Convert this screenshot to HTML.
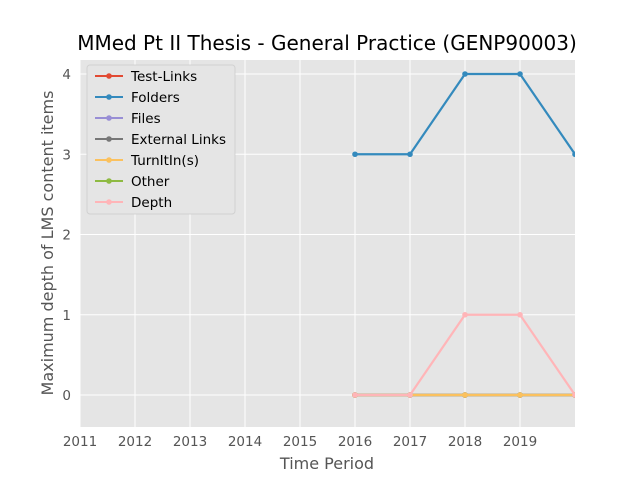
<!DOCTYPE html>
<html><head><meta charset="utf-8"><style>body{margin:0;background:#fff}svg{display:block;font-family:"DejaVu Sans","Liberation Sans",sans-serif}</style></head>
<body>
<svg id="c" width="640" height="480"><defs><clipPath id="pc"><rect x="80" y="60" width="495" height="367"/></clipPath></defs></svg>
<script>
const years=[2016,2017,2018,2019,2020];
const seriesNames=["Test-Links","Folders","Files","External Links","TurnItIn(s)","Other","Depth"];
const testLinks=[0,0,0,0,0];
const folders=[3,3,4,4,3];
const files=[0,0,0,0,0];
const externalLinks=[0,0,0,0,0];
const turnitin=[0,0,0,0,0];
const other=[0,0,0,0,0];
const depth=[0,0,1,1,0];
const xTicks=[2011,2012,2013,2014,2015,2016,2017,2018,2019];
const yTicks=[0,1,2,3,4];
const colors=["#E24A33","#348ABD","#988ED5","#777777","#FBC15E","#8EBA42","#FFB5B8"];
const all=[testLinks,folders,files,externalLinks,turnitin,other,depth];
const drawOrder=[0,1,2,3,5,4,6];
const NS="http://www.w3.org/2000/svg",svg=document.getElementById('c');
const L=80,R=575,T=60,B=427;
const x=v=>L+(v-2011)/(2020-2011)*(R-L);
const y=v=>395-v*80.25;
function mk(t,a,p){const e=document.createElementNS(NS,t);for(const k in a)e.setAttribute(k,a[k]);(p||svg).appendChild(e);return e;}
let bg=mk('rect',{x:L,y:T,width:R-L,height:B-T,fill:'#E5E5E5'});


xTicks.forEach(t=>{mk('line',{x1:x(t),x2:x(t),y1:T,y2:B,stroke:'#fff','stroke-width':1});
 let tx=mk('text',{x:x(t),y:446,'text-anchor':'middle','font-size':13.5,fill:'#555'});tx.textContent=t;
 
 });
yTicks.forEach(t=>{mk('line',{x1:L,x2:R,y1:y(t),y2:y(t),stroke:'#fff','stroke-width':1});
 let tx=mk('text',{x:71,y:y(t)+5,'text-anchor':'end','font-size':13.5,fill:'#555'});tx.textContent=t;
 
 });
const plot=mk('g',{'clip-path':'url(#pc)'});
drawOrder.forEach(i=>{const s=all[i];const g=mk('g',{},plot);
 
 
 mk('polyline',{points:s.map((v,j)=>x(years[j])+','+y(v)).join(' '),fill:'none',stroke:colors[i],'stroke-width':2.2},g);
 s.forEach((v,j)=>mk('circle',{cx:x(years[j]),cy:y(v),r:2.8,fill:colors[i]},g));});
const lg=mk('g',{});


mk('rect',{x:87,y:65,width:148,height:149,rx:3,fill:'#E5E5E5',stroke:'#ccc','stroke-opacity':0.8},lg);
seriesNames.forEach((n,i)=>{const yy=76+i*21;
 const e=mk('g',{},lg);
 
 
 mk('line',{x1:95,x2:123,y1:yy,y2:yy,stroke:colors[i],'stroke-width':2},e);
 mk('circle',{cx:109,cy:yy,r:2.8,fill:colors[i]},e);
 const t=mk('text',{x:131,y:yy+5,'font-size':13.5,fill:'#000'},e);t.textContent=n;});
let ti=mk('text',{x:327,y:50,'text-anchor':'middle','font-size':20,fill:'#000'});ti.textContent="MMed Pt II Thesis - General Practice (GENP90003)";


let xl=mk('text',{x:327,y:469,'text-anchor':'middle','font-size':16,fill:'#555'});xl.textContent="Time Period";


let yl=mk('text',{x:0,y:0,transform:'translate(53,243) rotate(-90)','text-anchor':'middle','font-size':16,fill:'#555'});yl.textContent="Maximum depth of LMS content items";


</script>
</body></html>
